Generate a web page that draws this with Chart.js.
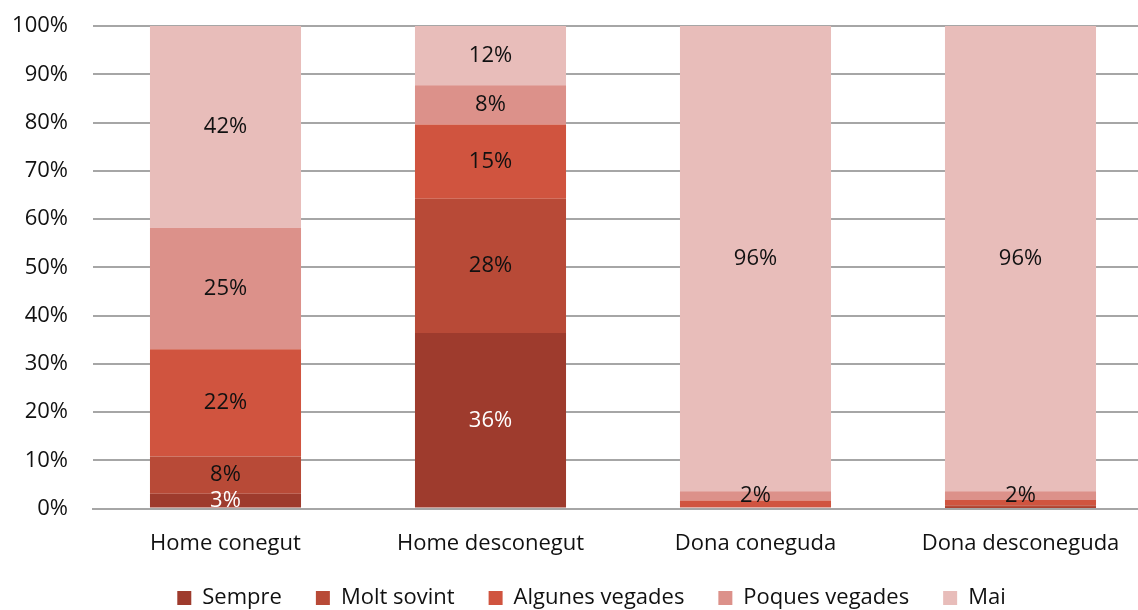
<!DOCTYPE html>
<html>
<head>
<meta charset="utf-8">
<script src="https://cdn.jsdelivr.net/npm/chart.js@4.4.0/dist/chart.umd.min.js"></script>
<style>
html,body{margin:0;padding:0;background:#fff;overflow:hidden;width:1138px;height:610px;}
#wrap{position:absolute;left:0;top:0;width:1153px;height:645px;}
</style>
</head>
<body>
<div id="wrap"><canvas id="c"></canvas></div>
<script>
const categories = ["Home conegut", "Home desconegut", "Dona coneguda", "Dona desconeguda"];
const seriesNames = ["Sempre", "Molt sovint", "Algunes vegades", "Poques vegades", "Mai"];
const sempre       = [3.1, 36.4, 0.0, 0.1];
const moltSovint   = [7.7, 27.8, 0.3, 0.6];
const algunes      = [22.2, 15.4, 1.4, 1.1];
const poques       = [25.2, 8.1, 1.9, 1.8];
const mai          = [41.8, 12.3, 96.4, 96.4];
const yTicks = [0,10,20,30,40,50,60,70,80,90,100];

const colors = ["#9E3B2D", "#B84A37", "#D0543F", "#DC918A", "#E8BDBA"];
const labelColors = ["#ffffff", "#111111", "#111111", "#111111", "#111111"];
const allSeries = [sempre, moltSovint, algunes, poques, mai];

const FONT = "'Open Sans', 'Noto Sans', sans-serif";
const FS = 22;

const labelPlugin = {
  id: 'segLabels',
  afterLayout(chart) {
    const lg = chart.legend;
    if (lg) { lg.left += 15; lg.right += 15; lg.top -= 26; lg.bottom -= 26; }
  },
  afterDatasetsDraw(chart) {
    const ctx = chart.ctx;
    ctx.save();
    const area = chart.chartArea;
    ctx.beginPath();
    ctx.rect(0, 0, chart.width, area.bottom);
    ctx.clip();
    chart.data.datasets.forEach((ds, di) => {
      const meta = chart.getDatasetMeta(di);
      meta.data.forEach((el, i) => {
        const v = ds.data[i];
        const r = Math.round(v);
        if (r < 2) return;
        const p = el.getProps(['x','y','base'], true);
        const cy = (p.y + p.base) / 2;
        ctx.fillStyle = labelColors[di];
        ctx.font = FS + "px " + FONT;
        ctx.textAlign = 'center';
        ctx.textBaseline = 'middle';
        ctx.fillText(r + '%', p.x, cy);
      });
    });
    ctx.restore();
  }
};

new Chart(document.getElementById('c'), {
  type: 'bar',
  data: {
    labels: categories,
    datasets: allSeries.map((d, i) => ({
      label: seriesNames[i],
      data: d,
      backgroundColor: colors[i],
      borderWidth: 0,
      categoryPercentage: 1.0,
      barPercentage: 0.57
    }))
  },
  options: {
    responsive: true,
    maintainAspectRatio: false,
    animation: false,
    layout: { padding: { top: 26, left: 0, right: 0, bottom: 0 } },
    plugins: {
      legend: {
        position: 'bottom',
        labels: {
          font: { family: FONT, size: FS },
          color: '#111',
          boxWidth: 14,
          boxHeight: 14,
          padding: 34
        }
      },
      tooltip: { enabled: false }
    },
    scales: {
      x: {
        stacked: true,
        grid: { display: false, drawTicks: false },
        border: { color: '#A6A6A6', width: 2 },
        ticks: { font: { family: FONT, size: FS }, color: '#111', padding: 22 }
      },
      y: {
        stacked: true,
        min: 0, max: 100,
        afterBuildTicks(axis) { axis.ticks = yTicks.map(v => ({ value: v })); },
        afterFit(axis) { axis.width = 93; },
        grid: { color: '#A6A6A6', lineWidth: 2, drawTicks: true, tickLength: 22, tickColor: 'rgba(0,0,0,0)' },
        border: { display: false },
        ticks: {
          font: { family: FONT, size: FS }, color: '#111', padding: 3,
          callback: v => v + '%'
        }
      }
    }
  },
  plugins: [labelPlugin]
});
</script>
</body>
</html>
